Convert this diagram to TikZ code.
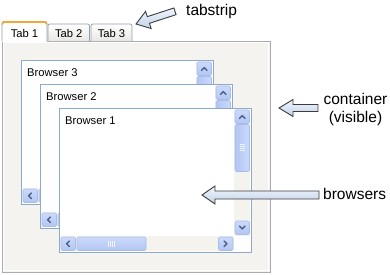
\documentclass[tikz,border=0pt]{standalone}
\usepackage{fontspec}
\setmainfont{Liberation Sans}
\definecolor{bframe}{RGB}{140,170,202}
\definecolor{track}{RGB}{244,243,238}
\definecolor{btntop}{RGB}{204,217,251}
\definecolor{btnbot}{RGB}{178,198,243}
\definecolor{btnedge}{RGB}{168,189,236}
\definecolor{chevc}{RGB}{77,97,133}
\definecolor{gripc}{RGB}{238,243,254}
\definecolor{contfill}{RGB}{244,243,239}
\definecolor{contedge}{RGB}{168,172,178}
\definecolor{tabedge}{RGB}{145,160,172}
\definecolor{tabgrad}{RGB}{232,231,226}
\definecolor{tabhi}{RGB}{240,168,60}
\definecolor{arredge}{RGB}{60,60,60}
\definecolor{arrtop}{RGB}{240,245,252}
\definecolor{arrbot}{RGB}{194,211,234}
\tikzset{
  frameline/.style={draw=bframe, line width=0.9pt},
  sbbtn/.style={draw=btnedge, top color=btntop, bottom color=btnbot, rounded corners=1.5pt, line width=0.6pt},
  sbthumbv/.style={draw=btnedge, left color=btnbot, right color=btntop, rounded corners=1.5pt, line width=0.6pt},
  chev/.style={draw=chevc, line width=1.4pt, line cap=round, line join=round},
  grip/.style={draw=gripc, line width=0.6pt},
  smalltext/.style={inner sep=0pt, font=\fontsize{11.2}{13}\selectfont},
  lbl/.style={inner sep=0pt, font=\fontsize{15.5}{18}\selectfont},
  tabbox/.style={draw=tabedge, line width=0.7pt, rounded corners=2pt},
  barrow/.style={draw=arredge, line width=0.9pt, line join=miter, top color=arrtop, bottom color=arrbot},
}
\newcommand\bwin[4]{%
\begin{scope}[shift={(#1,#2)}]
  \fill[white] (0,0) rectangle (192,144);
  \fill[track] (175,1) rectangle (191,128);
  \fill[track] (1,128) rectangle (175,143);
  \fill[white] (175,128) rectangle (191,143.5);
  % up button
  \draw[sbbtn] (176,2) rectangle (190.5,15.5);
  \draw[chev] (180.5,10.5) -- (183.25,7.5) -- (186,10.5);
  % vertical thumb
  \draw[sbthumbv] (176,16.5) rectangle (190.5,63.5);
  \foreach \gy in {36.5,38.5,40.5,42.5} \draw[grip] (180.5,\gy) -- (186,\gy);
  % down button
  \draw[sbbtn] (176,113) rectangle (190.5,126.5);
  \draw[chev] (180.5,118) -- (183.25,121) -- (186,118);
  % left button
  \draw[sbbtn] (2,129) rectangle (16.5,142.5);
  \draw[chev] (10.5,133) -- (7.5,135.75) -- (10.5,138.5);
  % horizontal thumb
  \draw[sbbtn] (18,129) rectangle (87,142.5);
  \foreach \gx in {49.5,51.5,53.5,55.5} \draw[grip] (\gx,133) -- (\gx,138.5);
  % right button
  \draw[sbbtn] (159.5,129) rectangle (174,142.5);
  \draw[chev] (165,133) -- (168,135.75) -- (165,138.5);
  \draw[frameline] (0,0) rectangle (192,144);
  \node[smalltext, anchor=base west] (#3) at (6,16) {#4};
\end{scope}}
\begin{document}
\begin{tikzpicture}[x=1pt, y=-1pt]
\useasboundingbox (0,0) rectangle (390,274);
\fill[white] (0,0) rectangle (390,274);
% container
\fill[contfill] (2,41) rectangle (270,272);
\draw[white, line width=0.8pt] (3.2,42.2) rectangle (268.8,270.8);
\draw[contedge, line width=0.9pt] (2,41) rectangle (270,272);
% inactive tabs
\draw[tabbox, top color=white, bottom color=tabgrad] (48,41) -- (48,24) -- (89.5,24) -- (89.5,41);
\draw[tabbox, top color=white, bottom color=tabgrad] (91,41) -- (91,24) -- (132,24) -- (132,41);
% active tab
\fill[white] (2.45,21.5) rectangle (46.55,41.6);
\draw[tabbox] (2,41) -- (2,21.5) -- (47,21.5) -- (47,41);
\draw[tabhi, line width=1.6pt, rounded corners=1.5pt] (2.6,23) -- (2.6,22) -- (46.4,22) -- (46.4,23);
\node[smalltext, anchor=base] (tab1) at (24.5,37) {Tab 1};
\node[smalltext, anchor=base] (tab2) at (68.75,37) {Tab 2};
\node[smalltext, anchor=base] (tab3) at (111.5,37) {Tab 3};
% browsers
\bwin{21}{60}{b3}{Browser 3}
\bwin{40}{84}{b2}{Browser 2}
\bwin{59}{108}{b1}{Browser 1}
% labels
\node[lbl, anchor=base west] (tabstrip) at (186,15) {tabstrip};
\node[lbl, anchor=base] (container) at (355.5,104) {container};
\node[lbl, anchor=base] (visible) at (355.5,122) {(visible)};
\node[lbl, anchor=base west] (browsers) at (323,199) {browsers};
% block arrows
\begin{scope}[shift={(136,24)}, rotate=18]
  \draw[barrow] (0,0) -- (13,-9) -- (13,-3.5) -- (41,-3.5) -- (41,3.5) -- (13,3.5) -- (13,9) -- cycle;
\end{scope}
\draw[barrow] (279,108) -- (293,99.5) -- (293,104.5) -- (318,104.5) -- (318,111.5) -- (293,111.5) -- (293,116.5) -- cycle;
\draw[barrow] (202,195) -- (215,186) -- (215,191) -- (319,191) -- (319,199) -- (215,199) -- (215,204) -- cycle;
\end{tikzpicture}
\end{document}
